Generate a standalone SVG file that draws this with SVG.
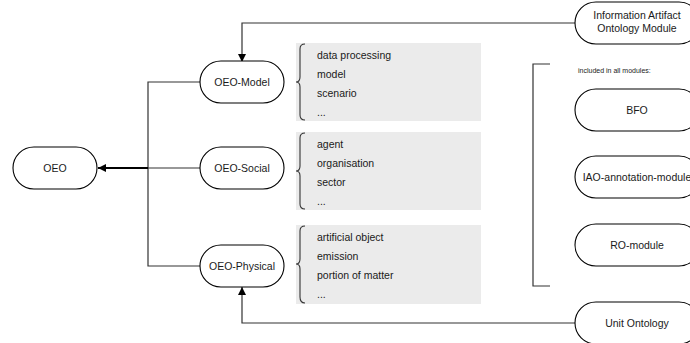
<svg xmlns="http://www.w3.org/2000/svg" width="690" height="343" viewBox="0 0 690 343">
  <defs>
    <style>
      .node { fill: #ffffff; stroke: #000000; stroke-width: 1.1; }
      .lbl { font-family: "Liberation Sans", Arial, sans-serif; font-size: 10.5px; fill: #1a1a1a; text-anchor: middle; }
      .item { font-family: "Liberation Sans", Arial, sans-serif; font-size: 10.5px; fill: #1a1a1a; }
      .note { font-family: "Liberation Sans", Arial, sans-serif; font-size: 7px; fill: #1a1a1a; }
      .panel { fill: #ebebeb; stroke: none; }
      .brace { fill: none; stroke: #333333; stroke-width: 1.1; }
      .edge { fill: none; stroke: #333333; stroke-width: 1.2; }
      .edge-bold { fill: none; stroke: #000000; stroke-width: 2; }
    </style>
    <marker id="arrow" viewBox="0 0 10 10" refX="10" refY="5" markerWidth="8" markerHeight="8" markerUnits="userSpaceOnUse" orient="auto">
      <path d="M0,0 L10,5 L0,10 z" fill="#000000"/>
    </marker>
  </defs>

  <!-- term lists -->
  <g id="list-model">
    <rect class="panel" x="296" y="43" width="185" height="78"/>
    <path class="brace" d="M305,44 Q300,44 300,49 V77 Q300,82 296,82 Q300,82 300,87 V115 Q300,120 305,120"/>
    <text class="item" x="317" y="59">data processing</text>
    <text class="item" x="317" y="78">model</text>
    <text class="item" x="317" y="97">scenario</text>
    <text class="item" x="317" y="116">...</text>
  </g>
  <g id="list-social">
    <rect class="panel" x="296" y="132" width="185" height="78"/>
    <path class="brace" d="M305,133 Q300,133 300,138 V166 Q300,171 296,171 Q300,171 300,176 V204 Q300,209 305,209"/>
    <text class="item" x="317" y="148">agent</text>
    <text class="item" x="317" y="167">organisation</text>
    <text class="item" x="317" y="186">sector</text>
    <text class="item" x="317" y="205">...</text>
  </g>
  <g id="list-physical">
    <rect class="panel" x="296" y="225" width="185" height="79"/>
    <path class="brace" d="M305,226 Q300,226 300,231 V259 Q300,264 296,264 Q300,264 300,269 V297 Q300,303 305,303"/>
    <text class="item" x="317" y="241">artificial object</text>
    <text class="item" x="317" y="260">emission</text>
    <text class="item" x="317" y="279">portion of matter</text>
    <text class="item" x="317" y="298">...</text>
  </g>

  <!-- connectors -->
  <g id="connectors">
    <path class="edge" d="M200,82 H148 V266 H200"/>
    <path class="edge" d="M200,168 H148"/>
    <path class="edge-bold" d="M148,168 H98" marker-end="url(#arrow)"/>
    <path class="edge" d="M575,23 H242 V62" marker-end="url(#arrow)"/>
    <path class="edge" d="M575,323 H242 V287" marker-end="url(#arrow)"/>
    <path class="edge" d="M550,64 H533 V286 H550"/>
  </g>

  <!-- nodes -->
  <g id="oeo">
    <rect class="node" x="13" y="147" width="84" height="42" rx="21"/>
    <text class="lbl" x="55" y="172">OEO</text>
  </g>
  <g id="oeo-model">
    <rect class="node" x="200" y="61" width="84" height="42" rx="21"/>
    <text class="lbl" x="242" y="86">OEO-Model</text>
  </g>
  <g id="oeo-social">
    <rect class="node" x="200" y="147" width="84" height="42" rx="21"/>
    <text class="lbl" x="242" y="172">OEO-Social</text>
  </g>
  <g id="oeo-physical">
    <rect class="node" x="200" y="245" width="84" height="42" rx="21"/>
    <text class="lbl" x="242" y="270">OEO-Physical</text>
  </g>
  <g id="iao">
    <rect class="node" x="575" y="2" width="125" height="42" rx="21"/>
    <text class="lbl" x="637" y="19">Information Artifact</text>
    <text class="lbl" x="637" y="32">Ontology Module</text>
  </g>
  <text class="note" x="578" y="73">included in all modules:</text>
  <g id="bfo">
    <rect class="node" x="575" y="89" width="125" height="42" rx="21"/>
    <text class="lbl" x="637" y="114">BFO</text>
  </g>
  <g id="iao-annotation">
    <rect class="node" x="575" y="156" width="125" height="42" rx="21"/>
    <text class="lbl" x="637" y="181">IAO-annotation-module</text>
  </g>
  <g id="ro-module">
    <rect class="node" x="575" y="224" width="125" height="42" rx="21"/>
    <text class="lbl" x="637" y="249">RO-module</text>
  </g>
  <g id="unit-ontology">
    <rect class="node" x="575" y="302" width="125" height="42" rx="21"/>
    <text class="lbl" x="637" y="327">Unit Ontology</text>
  </g>
</svg>
